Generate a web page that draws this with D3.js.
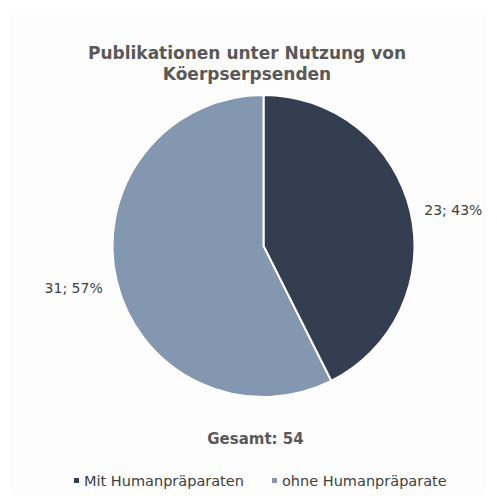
<!DOCTYPE html>
<html>
  <head>
    <meta charset="UTF-8">
    <style>
      body {
        margin: 0;
        background: #ffffff;
        font-family: "DejaVu Sans", Verdana, sans-serif;
      }
    </style>
    <script src="https://cdn.jsdelivr.net/npm/d3@7"></script>
  </head>
  <body>
    <svg id="chart"></svg>
    <script>
      let categories = ['Mit Humanpräparaten', 'ohne Humanpräparate'];
      let counts = [23, 31];
      let colors = ['#333f50', '#8497b0'];
      let titleLines = ['Publikationen unter Nutzung von', 'Köerpserpsenden'];

      let width = 497;
      let height = 499;
      let cx = 263.5;
      let cy = 246;
      let radius = 151;

      let svg = d3.select('#chart')
        .attr('width', width)
        .attr('height', height);

      // panel
      svg.append('rect')
        .attr('x', 10).attr('y', 10)
        .attr('width', 477).attr('height', 487)
        .attr('rx', 8)
        .attr('fill', '#fdfdfd');

      let title = svg.append('text')
        .attr('text-anchor', 'middle')
        .attr('fill', '#595959')
        .attr('font-weight', 'bold')
        .attr('font-size', 17);
      titleLines.forEach((t, i) => {
        title.append('tspan')
          .attr('x', 247)
          .attr('y', 59 + i * 21)
          .text(t);
      });

      let total = d3.sum(counts);
      let data = categories.map((c, i) => ({name: c, value: counts[i], color: colors[i]}));

      let pie = d3.pie()
        .value(d => d.value)
        .sort(null);

      let arc = d3.arc()
        .innerRadius(0)
        .outerRadius(radius);

      let arcs = pie(data);

      let body = svg.append('g')
        .attr('transform', `translate(${cx}, ${cy})`);

      body.selectAll('path')
        .data(arcs)
        .enter()
        .append('path')
        .attr('d', arc)
        .attr('fill', d => d.data.color)
        .attr('stroke', '#ffffff')
        .attr('stroke-width', 2);

      // labels outside the slices
      let labelArc = d3.arc()
        .innerRadius(radius + 40)
        .outerRadius(radius + 40);

      body.selectAll('.lbl')
        .data(arcs)
        .enter()
        .append('text')
        .attr('class', 'lbl')
        .attr('x', d => {
          let c = labelArc.centroid(d);
          return c[0] < 0 ? c[0] - 4 : c[0] + 4;
        })
        .attr('y', d => {
          let c = labelArc.centroid(d);
          return c[0] < 0 ? c[1] + 3 : c[1] + 13;
        })
        .attr('text-anchor', 'middle')
        .attr('font-size', 14)
        .attr('fill', '#404040')
        .text(d => `${d.data.value}; ${Math.round(d.data.value / total * 100)}%`);

      svg.append('text')
        .attr('x', 255.5)
        .attr('y', 444)
        .attr('text-anchor', 'middle')
        .attr('font-weight', 'bold')
        .attr('font-size', 15)
        .attr('fill', '#595959')
        .text('Gesamt: ' + total);

      // legend
      let legendX = [73, 271];
      let legend = svg.selectAll('.legend')
        .data(data)
        .enter()
        .append('g')
        .attr('class', 'legend')
        .attr('transform', (d, i) => `translate(${legendX[i]}, 486)`);

      legend.append('rect')
        .attr('x', 1).attr('y', -8)
        .attr('width', 5).attr('height', 5)
        .attr('fill', d => d.color);

      legend.append('text')
        .attr('x', 11)
        .attr('y', 0)
        .attr('font-size', 14.5)
        .attr('fill', '#404040')
        .text(d => d.name);
    </script>
  </body>
</html>
